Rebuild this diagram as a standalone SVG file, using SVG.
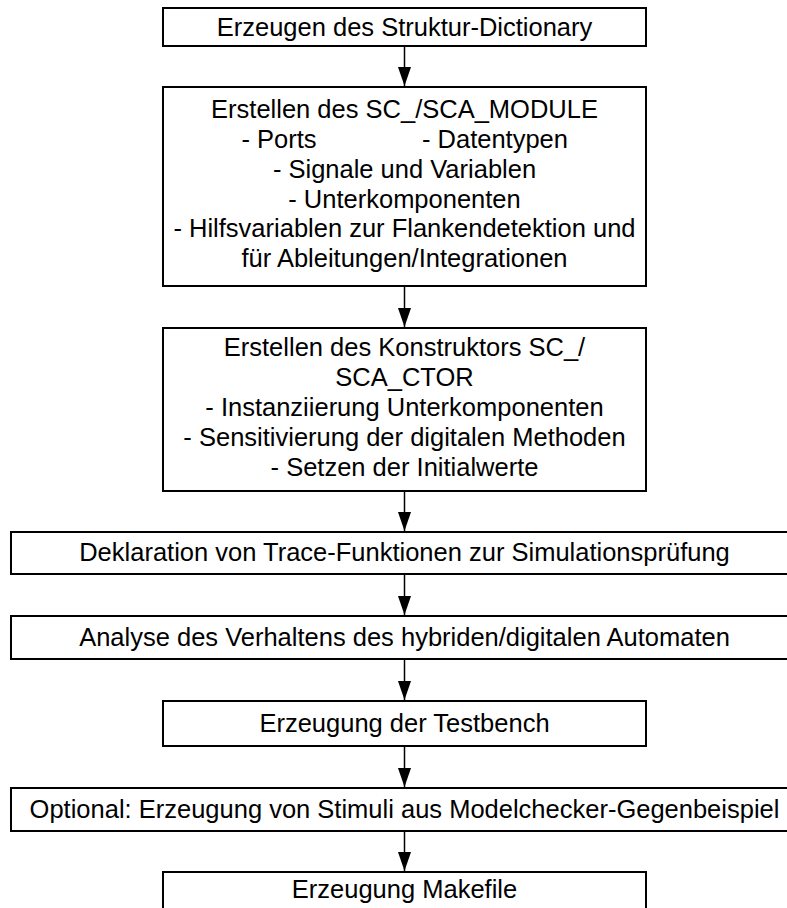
<svg xmlns="http://www.w3.org/2000/svg" width="787" height="908" viewBox="0 0 787 908">
<style>
.box{fill:#fff;stroke:#000;stroke-width:2}
.t{font-family:"Liberation Sans",Arial,sans-serif;font-size:25.5px;fill:#000;text-anchor:middle}
.c{stroke:#000;stroke-width:1.5;fill:none}
</style>
<defs>
<marker id="ah" markerWidth="19" markerHeight="13" refX="19" refY="6.5" orient="auto" markerUnits="userSpaceOnUse" viewBox="0 0 19 13">
<path d="M0,0 L19,6.5 L0,13 Z" fill="#000"/>
</marker>
</defs>
<rect width="787" height="908" fill="#fff"/>
<g id="connectors">
<line class="c" x1="404.5" y1="46" x2="404.5" y2="86" marker-end="url(#ah)"/>
<line class="c" x1="404.5" y1="286" x2="404.5" y2="327" marker-end="url(#ah)"/>
<line class="c" x1="404.5" y1="491" x2="404.5" y2="531" marker-end="url(#ah)"/>
<line class="c" x1="404.5" y1="574" x2="404.5" y2="615" marker-end="url(#ah)"/>
<line class="c" x1="404.5" y1="659" x2="404.5" y2="700" marker-end="url(#ah)"/>
<line class="c" x1="404.5" y1="746" x2="404.5" y2="787" marker-end="url(#ah)"/>
<line class="c" x1="404.5" y1="831" x2="404.5" y2="871" marker-end="url(#ah)"/>
</g>
<g id="n1"><rect class="box" x="163" y="8" width="483" height="38"/>
<text class="t" x="404.5" y="36">Erzeugen des Struktur-Dictionary</text></g>
<g id="n2"><rect class="box" x="163" y="87" width="483" height="199"/>
<text class="t" x="404.5" y="118">Erstellen des SC_/SCA_MODULE</text>
<text class="t" y="148"><tspan x="279">- Ports</tspan><tspan x="495">- Datentypen</tspan></text>
<text class="t" x="404.5" y="178">- Signale und Variablen</text>
<text class="t" x="404.5" y="208">- Unterkomponenten</text>
<text class="t" x="404.5" y="237">- Hilfsvariablen zur Flankendetektion und</text>
<text class="t" x="404.5" y="267">für Ableitungen/Integrationen</text></g>
<g id="n3"><rect class="box" x="163" y="328" width="483" height="163"/>
<text class="t" x="404.5" y="356">Erstellen des Konstruktors SC_/</text>
<text class="t" x="404.5" y="386">SCA_CTOR</text>
<text class="t" x="404.5" y="416">- Instanziierung Unterkomponenten</text>
<text class="t" x="404.5" y="446">- Sensitivierung der digitalen Methoden</text>
<text class="t" x="404.5" y="476">- Setzen der Initialwerte</text></g>
<g id="n4"><rect class="box" x="11" y="532" width="790" height="42"/>
<text class="t" x="404.5" y="561">Deklaration von Trace-Funktionen zur Simulationsprüfung</text></g>
<g id="n5"><rect class="box" x="11" y="616" width="790" height="43"/>
<text class="t" x="404.5" y="646">Analyse des Verhaltens des hybriden/digitalen Automaten</text></g>
<g id="n6"><rect class="box" x="163" y="701" width="483" height="45"/>
<text class="t" x="404.5" y="732">Erzeugung der Testbench</text></g>
<g id="n7"><rect class="box" x="11" y="788" width="790" height="43"/>
<text class="t" x="404.5" y="818">Optional: Erzeugung von Stimuli aus Modelchecker-Gegenbeispiel</text></g>
<g id="n8"><rect class="box" x="163" y="872" width="483" height="50"/>
<text class="t" x="404.5" y="898">Erzeugung Makefile</text></g>
</svg>
